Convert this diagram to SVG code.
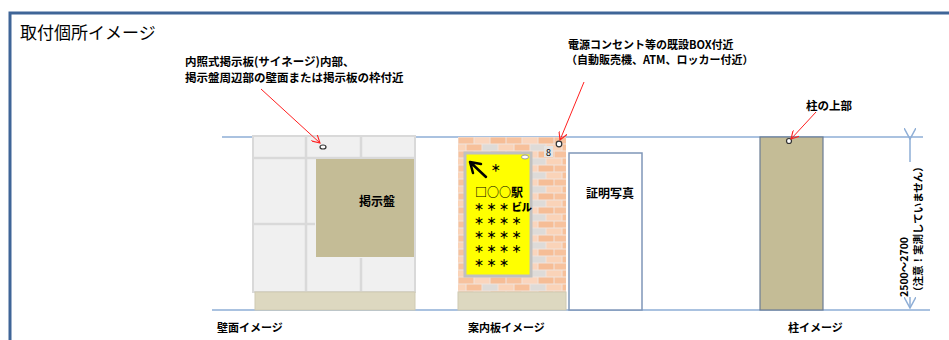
<svg xmlns="http://www.w3.org/2000/svg" width="949" height="340" viewBox="0 0 949 340">
  <defs>
    <style>
      .jp { font-family: "Noto Sans CJK JP", "Noto Sans", sans-serif; fill: #000; }
      .b { font-weight: bold; }
      .star { font-family: "Noto Sans CJK JP", "Noto Sans", sans-serif; font-weight: 900; font-size: 10px; letter-spacing: 2.5px; }
      .guide { stroke: #8eaed6; stroke-width: 1.5; fill: none; }
      .grid { stroke: #d9d9d9; stroke-width: 2.5; fill: none; }
      .lead { stroke: #ff2020; stroke-width: 1; fill: none; }
      .hole { fill: #fff; stroke: #333; stroke-width: 1.2; }
      .base { fill: #ddd8c0; stroke: #cfcab2; stroke-width: 1; }
    </style>
    <marker id="redHead" viewBox="0 0 10 10" refX="9" refY="5" markerWidth="9" markerHeight="9" orient="auto" markerUnits="userSpaceOnUse">
      <path d="M0,0 L9,5 L0,10" fill="none" stroke="#ff2020" stroke-width="1.2"/>
    </marker>
    <marker id="dimHead" viewBox="0 0 12 12" refX="11" refY="6" markerWidth="12" markerHeight="12" orient="auto" markerUnits="userSpaceOnUse">
      <path d="M0,0 L11,6 L0,12" fill="none" stroke="#8eaed6" stroke-width="1.5"/>
    </marker>
    <pattern id="brick" x="458" y="137" width="48" height="14" patternUnits="userSpaceOnUse">
      <rect width="48" height="14" fill="#f1e4dc"/>
      <rect x="0.5" y="0.5" width="15" height="6" fill="#f7c29e"/>
      <rect x="16.5" y="0.5" width="15" height="6" fill="#fad5bd"/>
      <rect x="32.5" y="0.5" width="15" height="6" fill="#f6bd96"/>
      <rect x="-7.5" y="7.5" width="15" height="6" fill="#fad3b8"/>
      <rect x="8.5" y="7.5" width="15" height="6" fill="#f7c09a"/>
      <rect x="24.5" y="7.5" width="15" height="6" fill="#dedbd8"/>
      <rect x="40.5" y="7.5" width="15" height="6" fill="#fad3b8"/>
    </pattern>
  </defs>

  <rect width="949" height="340" fill="#fff"/>

  <!-- outer frame -->
  <g id="frame">
    <path d="M10,340 V13 H949" fill="none" stroke="#3f6597" stroke-width="3"/>
    <text class="jp" x="20" y="39" font-size="17">取付個所イメージ</text>
  </g>

  <!-- floor and ceiling reference lines -->
  <g id="reference-lines">
    <line class="guide" x1="222" y1="137" x2="923" y2="137"/>
    <line class="guide" x1="212" y1="310" x2="930" y2="310"/>
  </g>

  <!-- wall with notice board -->
  <g id="wall">
    <rect x="253" y="136" width="162" height="156" fill="#f0f0f0" stroke="#d9d9d9" stroke-width="2"/>
    <line class="grid" x1="306" y1="136" x2="306" y2="292"/>
    <line class="grid" x1="361" y1="136" x2="361" y2="158"/>
    <line class="grid" x1="361" y1="258" x2="361" y2="292"/>
    <line class="grid" x1="253" y1="158" x2="415" y2="158"/>
    <line class="grid" x1="253" y1="224" x2="315" y2="224"/>
    <rect class="base" x="255" y="292" width="160" height="18"/>
    <rect x="316" y="159" width="98" height="98" fill="#c4bc96"/>
    <text class="jp b" x="377" y="206" font-size="12" text-anchor="middle">掲示盤</text>
    <ellipse class="hole" cx="323" cy="147" rx="3" ry="2"/>
  </g>

  <!-- brick pillar with guide sign -->
  <g id="guide-board">
    <rect x="458" y="137" width="108" height="155" fill="url(#brick)"/>
    <rect class="base" x="458" y="292" width="108" height="18"/>
    <rect x="465" y="153" width="66" height="123" fill="#ffff00" stroke="#c0c0c0" stroke-width="3"/>
    <ellipse cx="525" cy="157" rx="3.5" ry="2" fill="#fff" stroke="#999" stroke-width="1"/>
    <path d="M486,177 L470,162 M470,162 L481,164 M470,162 L473,173" fill="none" stroke="#000" stroke-width="2.5" stroke-linecap="round"/>
    <text class="star" x="497" y="172" text-anchor="middle">＊</text>
    <text class="jp b" x="475" y="197" font-size="12">□○○駅</text>
    <text class="star" x="474" y="211">＊＊＊<tspan font-size="10.5" letter-spacing="-0.5">ビル</tspan></text>
    <text class="star" x="474" y="225">＊＊＊＊</text>
    <text class="star" x="474" y="239">＊＊＊＊</text>
    <text class="star" x="474" y="253">＊＊＊＊</text>
    <text class="star" x="474" y="267">＊＊＊</text>
    <rect x="544" y="146" width="9" height="11" fill="#e4e4e4"/>
    <text class="jp" x="548.5" y="155.5" font-size="9" text-anchor="middle">8</text>
    <circle class="hole" cx="559" cy="144" r="2.8"/>
  </g>

  <!-- photo booth -->
  <g id="photo-booth">
    <rect x="569" y="153" width="73" height="157" fill="#fff" stroke="#7f96b8" stroke-width="1.5"/>
    <text class="jp b" x="610" y="198" font-size="12" text-anchor="middle">証明写真</text>
  </g>

  <!-- column -->
  <g id="pillar">
    <rect x="760" y="137" width="63" height="173" fill="#c4bc96" stroke="#6b7c94" stroke-width="1.2"/>
    <circle class="hole" cx="789" cy="141" r="2.5"/>
  </g>

  <!-- height dimension -->
  <g id="dimension">
    <line x1="910" y1="139" x2="910" y2="308" stroke="#8eaed6" stroke-width="1.5" marker-start="url(#dimHead)" marker-end="url(#dimHead)"/>
    <rect x="899" y="162" width="27" height="135" fill="#fff"/>
    <text class="jp b" font-size="10.5" transform="translate(908,297) rotate(-90)">2500～2700</text>
    <text class="jp b" font-size="10.5" transform="translate(922,297) rotate(-90)">（注意！実測していません）</text>
  </g>

  <!-- callout texts -->
  <g id="callouts">
    <text class="jp b" x="185" y="66" font-size="11.5">内照式掲示板(サイネージ)内部、</text>
    <text class="jp b" x="185" y="82" font-size="11.5">掲示盤周辺部の壁面または掲示板の枠付近</text>
    <text class="jp b" x="568" y="49" font-size="11">電源コンセント等の既設BOX付近</text>
    <text class="jp b" x="566" y="64" font-size="11">（自動販売機、ATM、ロッカー付近）</text>
    <text class="jp b" x="806" y="110" font-size="11.5">柱の上部</text>
  </g>

  <!-- leader arrows -->
  <g id="connectors">
    <line class="lead" x1="261" y1="89" x2="320" y2="143" marker-end="url(#redHead)"/>
    <line class="lead" x1="584" y1="82" x2="560" y2="140" marker-end="url(#redHead)"/>
    <line class="lead" x1="816" y1="112" x2="791" y2="139" marker-end="url(#redHead)"/>
  </g>

  <!-- captions -->
  <g id="captions">
    <text class="jp b" x="217" y="332" font-size="11">壁面イメージ</text>
    <text class="jp b" x="468" y="332" font-size="11">案内板イメージ</text>
    <text class="jp b" x="788" y="332" font-size="11">柱イメージ</text>
  </g>
</svg>
